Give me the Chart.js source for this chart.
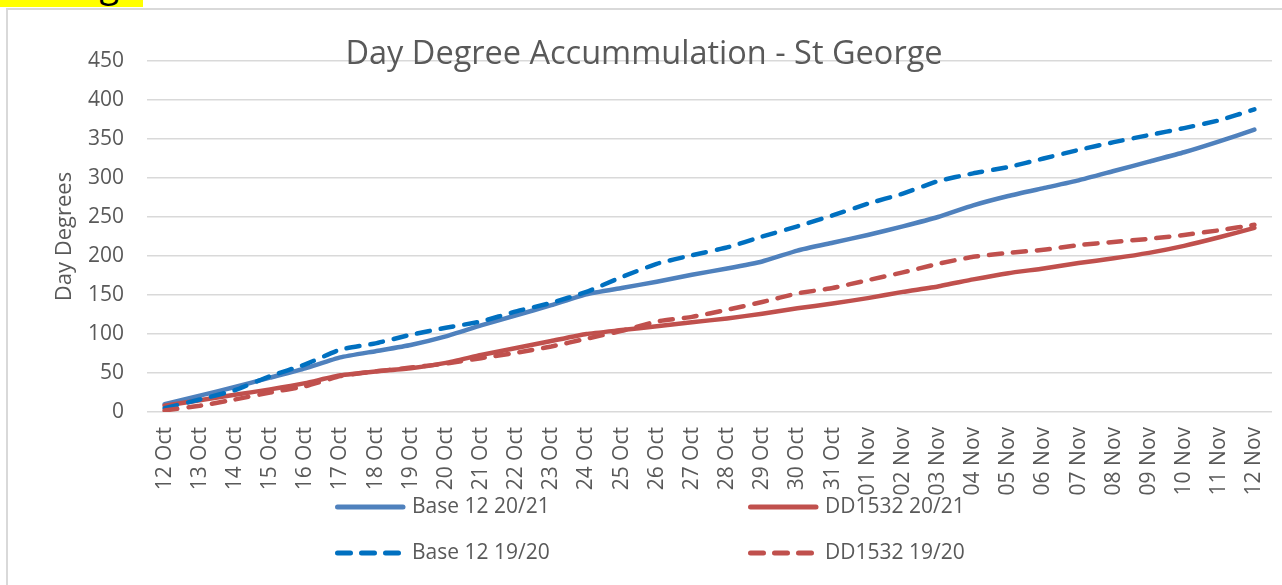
<!DOCTYPE html>
<html>
<head>
<meta charset="utf-8">
<script src="https://cdn.jsdelivr.net/npm/chart.js@4"></script>
<style>
html,body{margin:0;padding:0;background:#fff;}
body{width:1282px;height:585px;position:relative;overflow:hidden;font-family:"Open Sans",sans-serif;}
#frame{position:absolute;left:6px;top:8px;width:1290px;height:600px;border-left:2px solid #d9d9d9;border-top:2px solid #d9d9d9;}
#hl{position:absolute;left:0;top:0;width:143px;height:7px;background:#ffff00;overflow:hidden;}
#hl span{position:absolute;right:24px;bottom:5px;font-size:36px;line-height:36px;color:#000;white-space:nowrap;}
#c{position:absolute;left:0;top:0;}
</style>
</head>
<body>
<div id="hl"><span>ng</span></div>
<div id="frame"></div>
<canvas id="c" width="1282" height="585"></canvas>
<script>
// ---- data ----
const categories = ['12 Oct','13 Oct','14 Oct','15 Oct','16 Oct','17 Oct','18 Oct','19 Oct','20 Oct','21 Oct',
  '22 Oct','23 Oct','24 Oct','25 Oct','26 Oct','27 Oct','28 Oct','29 Oct','30 Oct','31 Oct',
  '01 Nov','02 Nov','03 Nov','04 Nov','05 Nov','06 Nov','07 Nov','08 Nov','09 Nov','10 Nov','11 Nov','12 Nov'];
const base12_2021 = [10,21,32,44,56,70,78,86,97,111,124,137,151,159,167,176,184,193,207,217,227,238,250,265,277,287,297,309,321,333,347,362];
const dd1532_2021 = [8,15,22,29,37,47,52,56,63,73,82,91,100,105,110,115,120,126,133,139,146,154,161,170,178,184,191,197,204,213,224,236];
const base12_1920 = [5,16,28,46,61,80,88,99,108,116,129,140,154,173,190,201,211,225,238,252,267,280,296,306,314,325,336,346,355,364,374,388];
const dd1532_1920 = [2,8,16,25,33,46,52,57,62,69,76,84,94,104,116,122,131,141,152,159,169,179,190,199,204,208,214,218,222,227,233,240];
const seriesNames = ['Base 12 20/21','DD1532 20/21','Base 12 19/20','DD1532 19/20'];
const yMin = 0, yMax = 450, yStep = 50;
const chartTitle = 'Day Degree Accummulation - St George';
const yTitle = 'Day Degrees';

const TXT = '#595959';
const FONT = '"Open Sans", sans-serif';

const legendPlugin = {
  id: 'gridLegend',
  afterDraw(chart) {
    const ctx = chart.ctx;
    const cols = [335, 748];
    const rows = [chart.height - 78, chart.height - 32];
    chart.data.datasets.forEach((ds, i) => {
      const x = cols[i % 2], y = rows[Math.floor(i / 2)];
      ctx.save();
      ctx.strokeStyle = ds.borderColor;
      ctx.lineWidth = 5;
      ctx.lineCap = 'round';
      ctx.setLineDash(ds.borderDash || []);
      ctx.beginPath();
      ctx.moveTo(x + 2.5, y);
      ctx.lineTo(x + 68, y);
      ctx.stroke();
      ctx.setLineDash([]);
      ctx.fillStyle = TXT;
      ctx.font = '21px ' + FONT;
      ctx.textBaseline = 'middle';
      ctx.textAlign = 'left';
      ctx.fillText(ds.label, x + 77, y);
      ctx.restore();
    });
  }
};

function ds(label, data, color, dash, order) {
  return {
    label, data,
    borderColor: color, backgroundColor: color,
    borderWidth: 4.5,
    borderDash: dash,
    borderCapStyle: 'round',
    borderJoinStyle: 'round',
    pointRadius: 0,
    tension: 0.15,
    fill: false,
    order
  };
}

new Chart(document.getElementById('c'), {
  type: 'line',
  data: {
    labels: categories,
    datasets: [
      ds(seriesNames[0], base12_2021, '#4F81BD', [], 3),
      ds(seriesNames[1], dd1532_2021, '#C0504D', [], 2),
      ds(seriesNames[2], base12_1920, '#0070C0', [13, 11], 1),
      ds(seriesNames[3], dd1532_1920, '#C0504D', [13, 11], 0)
    ]
  },
  options: {
    responsive: false,
    animation: false,
    devicePixelRatio: 1,
    layout: { padding: { left: 16, right: 10, top: 49, bottom: 83 } },
    plugins: {
      legend: { display: false },
      tooltip: { enabled: false },
      title: {
        display: true,
        text: chartTitle,
        color: TXT,
        font: { family: FONT, size: 32.5, weight: 'normal', lineHeight: 0.37 },
        padding: 0
      }
    },
    scales: {
      x: {
        type: 'category',
        offset: true,
        grid: { display: false, drawTicks: false },
        border: { display: false },
        ticks: {
          color: TXT,
          font: { family: FONT, size: 21 },
          minRotation: 90, maxRotation: 90,
          autoSkip: false,
          padding: 15
        },
        afterFit(s) { s.height = 90; s.paddingLeft = 0; s.paddingRight = 0; }
      },
      y: {
        min: yMin, max: yMax,
        grid: { color: '#d9d9d9', lineWidth: 1.5, drawTicks: false },
        border: { display: false },
        ticks: {
          stepSize: yStep,
          color: TXT,
          font: { family: FONT, size: 21 },
          padding: 23
        },
        title: {
          display: true,
          text: yTitle,
          color: TXT,
          font: { family: FONT, size: 22 },
          padding: { top: 36, bottom: 0 }
        },
        afterFit(s) { s.width = 131; }
      }
    }
  },
  plugins: [legendPlugin]
});
</script>
</body>
</html>
